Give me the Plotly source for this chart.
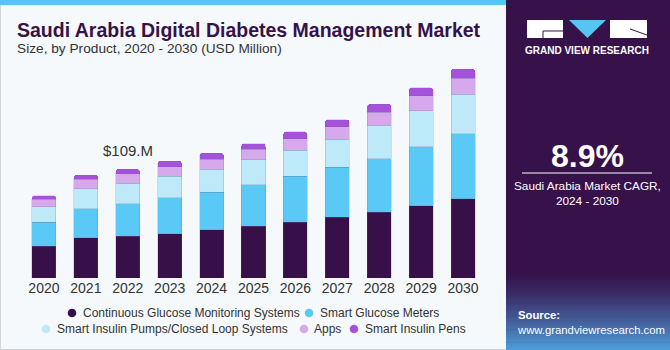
import plotly.graph_objects as go

# ---------------- data (USD Million) ----------------
years = ["2020", "2021", "2022", "2023", "2024", "2025", "2026", "2027", "2028", "2029", "2030"]
cgm = [32.0, 40.3, 42.0, 44.3, 48.3, 51.7, 56.0, 61.0, 66.0, 72.3, 79.3]
sgm = [23.7, 29.0, 32.3, 36.0, 37.7, 41.7, 46.0, 49.7, 53.3, 59.0, 65.0]
pumps = [15.6, 20.0, 20.7, 21.7, 22.7, 25.0, 25.7, 28.3, 33.3, 36.0, 39.3]
apps = [7.7, 9.7, 9.3, 9.3, 10.3, 10.3, 11.7, 12.3, 13.3, 15.0, 16.0]
pens = [3.3, 4.0, 4.4, 5.7, 6.0, 5.7, 6.7, 7.0, 8.0, 8.0, 9.3]
series_names = ["Continuous Glucose Monitoring Systems", "Smart Glucose Meters",
                "Smart Insulin Pumps/Closed Loop Systems", "Apps", "Smart Insulin Pens"]
label_year = "2022"
label_text = "$109.M"
cagr_text = "8.9%"

colors = ["#37104a", "#5bc9f5", "#bde9f9", "#d6a8ec", "#a651d9"]
series = [cgm, sgm, pumps, apps, pens]
xpos = list(range(len(years)))

W, H = 670, 350
ML, MR, MT, MB = 23, 186, 60, 72
PW, PH = W - ML - MR, H - MT - MB


def px(x):
    return (x - ML) / PW


def py(y):
    return (H - MB - y) / PH


FONT = "Liberation Sans"
fig = go.Figure()

for name, vals, col in zip(series_names, series, colors):
    fig.add_trace(go.Bar(x=xpos, y=vals, name=name, showlegend=False, width=0.573,
                         marker=dict(color=col, line=dict(width=0.6, color="rgba(90,110,140,0.35)"))))

shapes = []
annotations = []

# outer background border
shapes.append(dict(type="rect", xref="paper", yref="paper", x0=px(0.5), x1=px(669.5), y0=py(349.5), y1=py(0.5),
                   line=dict(color="#cfd4d8", width=1), fillcolor="rgba(0,0,0,0)", layer="below"))
# top cyan strip
shapes.append(dict(type="rect", xref="paper", yref="paper", x0=px(0), x1=px(506), y0=py(5), y1=py(0),
                   line=dict(width=0), fillcolor="#56c5f1", layer="below"))
# right panel
shapes.append(dict(type="rect", xref="paper", yref="paper", x0=px(506), x1=px(670), y0=py(350), y1=py(0),
                   line=dict(width=0), fillcolor="#37114a", layer="below"))
# gradient at panel bottom
n = 30
y_start, y_end = 272, 350
c0 = (55, 18, 75)
c1 = (78, 160, 222)
for k in range(n):
    t = (k + 0.5) / n
    t2 = t ** 1.3
    c = tuple(int(c0[j] + (c1[j] - c0[j]) * t2) for j in range(3))
    ya = y_start + (y_end - y_start) * k / n
    yb = y_start + (y_end - y_start) * (k + 1) / n + 0.5
    shapes.append(dict(type="rect", xref="paper", yref="paper", x0=px(506), x1=px(670), y0=py(yb), y1=py(ya),
                       line=dict(width=0), fillcolor="rgb(%d,%d,%d)" % c, layer="below"))

# logo
shapes.append(dict(type="rect", xref="paper", yref="paper", x0=px(527), x1=px(563), y0=py(38), y1=py(20),
                   line=dict(width=0), fillcolor="white"))
shapes.append(dict(type="path", xref="paper", yref="paper",
                   path="M %f %f L %f %f L %f %f Z" % (px(569), py(20), px(606), py(20), px(587.5), py(38)),
                   line=dict(width=0), fillcolor="#56c5f1"))
shapes.append(dict(type="rect", xref="paper", yref="paper", x0=px(610), x1=px(647), y0=py(38), y1=py(20),
                   line=dict(width=0), fillcolor="white"))
shapes.append(dict(type="path", xref="paper", yref="paper",
                   path="M %f %f L %f %f L %f %f" % (px(563), py(31), px(543), py(31), px(543), py(38)),
                   line=dict(width=1, color="#37114a")))
shapes.append(dict(type="path", xref="paper", yref="paper",
                   path="M %f %f L %f %f" % (px(630), py(29), px(647), py(35)),
                   line=dict(width=1, color="#37114a")))
# separator line under CAGR
shapes.append(dict(type="line", xref="paper", yref="paper", x0=px(522), x1=px(652), y0=py(173), y1=py(173),
                   line=dict(width=1, color="white")))

annotations += [
    dict(text="Saudi Arabia Digital Diabetes Management Market", x=px(15), y=py(30), xref="paper", yref="paper",
         xanchor="left", yanchor="middle", showarrow=False,
         font=dict(family=FONT, size=19.5, color="#37114a", weight="bold")),
    dict(text="Size, by Product, 2020 - 2030 (USD Million)", x=px(15), y=py(49), xref="paper", yref="paper",
         xanchor="left", yanchor="middle", showarrow=False,
         font=dict(family=FONT, size=13.7, color="#333333")),
    dict(text="GRAND VIEW RESEARCH", x=px(587), y=py(51), xref="paper", yref="paper",
         xanchor="center", yanchor="middle", showarrow=False,
         font=dict(family=FONT, size=10, color="white", weight="bold")),
    dict(text=cagr_text, x=px(587), y=py(156), xref="paper", yref="paper",
         xanchor="center", yanchor="middle", showarrow=False,
         font=dict(family=FONT, size=32, color="white", weight="bold")),
    dict(text="Saudi Arabia Market CAGR,<br>2024 - 2030", x=px(587), y=py(193.5), xref="paper", yref="paper",
         xanchor="center", yanchor="middle", showarrow=False, align="center",
         font=dict(family=FONT, size=11.8, color="white")),
    dict(text="<b>Source:</b><br>www.grandviewresearch.com", x=px(515), y=py(322.5), xref="paper", yref="paper",
         xanchor="left", yanchor="middle", showarrow=False, align="left",
         font=dict(family=FONT, size=11.3, color="white")),
]

# legend (two centred rows) built from the series names / colours
legend_rows = [(313, [(0, 72, 83), (1, 309, 320)]),
               (329, [(2, 46, 57), (3, 304, 314), (4, 354, 365)])]
r = 4.3
for yrow, items in legend_rows:
    for i, cx, tx in items:
        shapes.append(dict(type="circle", xref="paper", yref="paper",
                           x0=px(cx - r), x1=px(cx + r), y0=py(yrow + r), y1=py(yrow - r),
                           line=dict(width=0), fillcolor=colors[i]))
        annotations.append(dict(text=series_names[i], x=px(tx - 2), y=py(yrow), xref="paper", yref="paper",
                                xanchor="left", yanchor="middle", showarrow=False,
                                font=dict(family=FONT, size=12, color="#333333")))

# value label above 2022 bar
idx = years.index(label_year)
total = sum(s[idx] for s in series)
annotations.append(dict(text=label_text, x=xpos[idx], y=total, xref="x", yref="y", yanchor="bottom",
                        xanchor="center", yshift=8, showarrow=False,
                        font=dict(family=FONT, size=15, color="#333333")))

fig.update_layout(
    width=W, height=H,
    margin=dict(l=ML, r=MR, t=MT, b=MB, autoexpand=False),
    paper_bgcolor="#f5f9fc", plot_bgcolor="#f5f9fc",
    barmode="stack", barcornerradius=3,
    showlegend=False,
    font=dict(family=FONT, color="#333333"),
    xaxis=dict(type="linear", range=[-0.5, len(years) - 0.5], tickmode="array", tickvals=xpos, ticktext=years,
               showgrid=False, zeroline=False, showline=False, ticks="",
               tickfont=dict(family=FONT, size=14, color="#333333"), fixedrange=True),
    yaxis=dict(range=[0, PH], visible=False, fixedrange=True),
    shapes=shapes,
    annotations=annotations,
)

fig.write_html("out.html")
